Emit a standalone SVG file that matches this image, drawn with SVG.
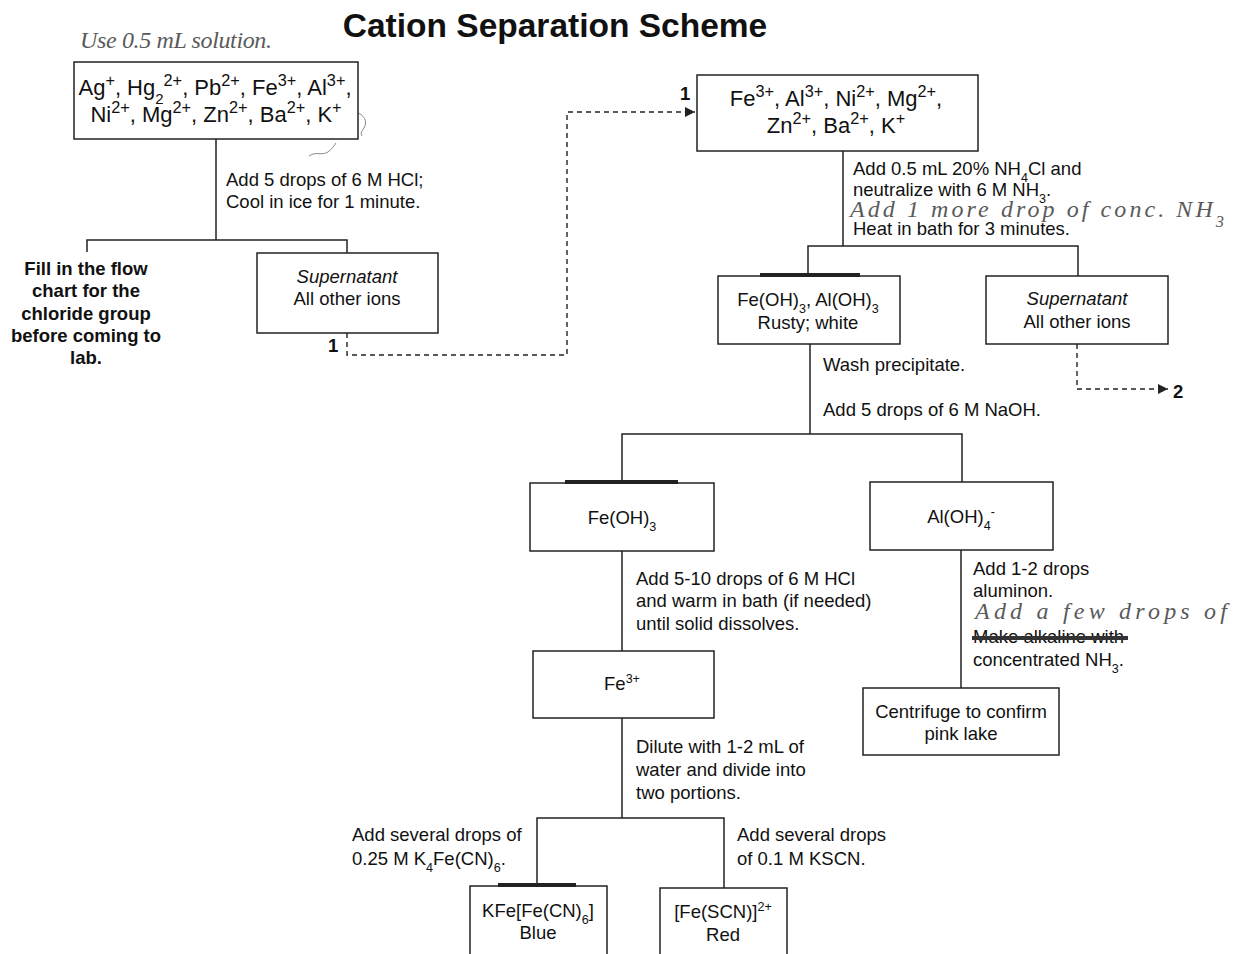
<svg xmlns="http://www.w3.org/2000/svg" width="1233" height="954" viewBox="0 0 1233 954">
  <style>
    text { font-family: "Liberation Sans", Arial, sans-serif; fill: #111; }
    .title { font-size: 33.5px; font-weight: bold; text-anchor: middle; }
    .ions { font-size: 22px; text-anchor: middle; }
    .ions .sup { font-size: 74%; }
    .lbl { font-size: 18.5px; }
    .mid { font-size: 18.5px; text-anchor: middle; }
    .it { font-style: italic; }
    .bold { font-size: 18.5px; font-weight: bold; }
    .note { font-size: 18.5px; font-weight: bold; text-anchor: middle; }
    .hand { font-family: "Liberation Serif", serif; font-style: italic; font-size: 24px; fill: #5a5a5a; }
    .sup { font-size: 68%; baseline-shift: super; }
    .sub { font-size: 68%; baseline-shift: sub; }
    .box { fill: #fff; stroke: #222; stroke-width: 1.5; }
    .bar { fill: #222; }
    .wire { fill: none; stroke: #222; stroke-width: 1.5; }
    .dash { fill: none; stroke: #222; stroke-width: 1.4; stroke-dasharray: 5 4; }
    .mark { fill: none; stroke: #888; stroke-width: 1; }
  </style>
  <defs>
    <marker id="arrow" viewBox="0 0 10 10" refX="10" refY="5" markerWidth="10" markerHeight="10" markerUnits="userSpaceOnUse" orient="auto">
      <path d="M0,0 L10,5 L0,10 z" fill="#222"/>
    </marker>
  </defs>
  <rect width="1233" height="954" fill="#fff"/>

  <text class="title" x="555" y="37">Cation Separation Scheme</text>

  <!-- connectors -->
  <g id="connectors">
    <path class="wire" d="M216,139 V240 M87,252 V240 H347 V253"/>
    <path class="dash" d="M347,333 V355 H567 V112 H695" marker-end="url(#arrow)"/>
    <path class="wire" d="M843,151 V246 M808,276 V246 H1078 V276"/>
    <path class="dash" d="M1077,344 V389 H1168" marker-end="url(#arrow)"/>
    <path class="wire" d="M810,344 V434 M622,483 V434 H962 V482"/>
    <path class="wire" d="M622,551 V651"/>
    <path class="wire" d="M622,718 V818 M537,886 V818 H724 V888"/>
    <path class="wire" d="M961,550 V688"/>
  </g>

  <!-- pen marks -->
  <g id="marks">
    <path class="mark" d="M356,112 C364,115 368,121 364,128 C362,131 360,133 362,136"/>
    <path class="mark" d="M309,156 C316,151 322,156 328,152 C332,149 334,146 336,143"/>
  </g>

  <!-- starting solution -->
  <g id="start">
    <text class="hand" x="80" y="48" textLength="192" lengthAdjust="spacing">Use 0.5 mL solution.</text>
    <rect class="box" x="74" y="62" width="284" height="77"/>
    <text class="ions" x="215" y="95">Ag<tspan class="sup">+</tspan>, Hg<tspan class="sub">2</tspan><tspan class="sup">2+</tspan>, Pb<tspan class="sup">2+</tspan>, Fe<tspan class="sup">3+</tspan>, Al<tspan class="sup">3+</tspan>,</text>
    <text class="ions" x="216" y="122">Ni<tspan class="sup">2+</tspan>, Mg<tspan class="sup">2+</tspan>, Zn<tspan class="sup">2+</tspan>, Ba<tspan class="sup">2+</tspan>, K<tspan class="sup">+</tspan></text>
  </g>

  <g id="step-hcl">
    <text class="lbl" x="226" y="186">Add 5 drops of 6 M HCl;</text>
    <text class="lbl" x="226" y="208">Cool in ice for 1 minute.</text>
  </g>

  <g id="chloride-note">
    <text class="note" x="86" y="275">Fill in the flow</text>
    <text class="note" x="86" y="297">chart for the</text>
    <text class="note" x="86" y="320">chloride group</text>
    <text class="note" x="86" y="342">before coming to</text>
    <text class="note" x="86" y="364">lab.</text>
  </g>

  <g id="supernatant-1">
    <rect class="box" x="257" y="253" width="181" height="80"/>
    <text class="mid it" x="347" y="283">Supernatant</text>
    <text class="mid" x="347" y="305">All other ions</text>
    <text class="bold" x="328" y="352">1</text>
  </g>

  <!-- group 2 onwards -->
  <g id="remaining-ions">
    <text class="bold" x="680" y="100">1</text>
    <rect class="box" x="697" y="75" width="281" height="76"/>
    <text class="ions" x="836" y="106">Fe<tspan class="sup">3+</tspan>, Al<tspan class="sup">3+</tspan>, Ni<tspan class="sup">2+</tspan>, Mg<tspan class="sup">2+</tspan>,</text>
    <text class="ions" x="836" y="133">Zn<tspan class="sup">2+</tspan>, Ba<tspan class="sup">2+</tspan>, K<tspan class="sup">+</tspan></text>
  </g>

  <g id="step-nh3">
    <text class="lbl" x="853" y="175">Add 0.5 mL 20% NH<tspan class="sub">4</tspan>Cl and</text>
    <text class="lbl" x="853" y="196">neutralize with 6 M NH<tspan class="sub">3</tspan>.</text>
    <text class="hand" x="850" y="217" textLength="374" lengthAdjust="spacing">Add 1 more drop of conc. NH<tspan class="sub">3</tspan></text>
    <text class="lbl" x="853" y="235">Heat in bath for 3 minutes.</text>
  </g>

  <g id="hydroxides">
    <rect class="box" x="718" y="276" width="182" height="68"/>
    <rect class="bar" x="760" y="273" width="100" height="4"/>
    <text class="mid" x="808" y="306">Fe(OH)<tspan class="sub">3</tspan>, Al(OH)<tspan class="sub">3</tspan></text>
    <text class="mid" x="808" y="329">Rusty; white</text>
  </g>

  <g id="supernatant-2">
    <rect class="box" x="986" y="276" width="182" height="68"/>
    <text class="mid it" x="1077" y="305">Supernatant</text>
    <text class="mid" x="1077" y="328">All other ions</text>
    <text class="bold" x="1173" y="398">2</text>
  </g>

  <g id="step-naoh">
    <text class="lbl" x="823" y="371">Wash precipitate.</text>
    <text class="lbl" x="823" y="416">Add 5 drops of 6 M NaOH.</text>
  </g>

  <g id="iron-hydroxide">
    <rect class="box" x="530" y="483" width="184" height="68"/>
    <rect class="bar" x="565" y="480" width="113" height="4"/>
    <text class="mid" x="622" y="524">Fe(OH)<tspan class="sub">3</tspan></text>
  </g>

  <g id="aluminate">
    <rect class="box" x="870" y="482" width="183" height="68"/>
    <text class="mid" x="961" y="523">Al(OH)<tspan class="sub">4</tspan><tspan class="sup">-</tspan></text>
  </g>

  <g id="step-dissolve">
    <text class="lbl" x="636" y="585">Add 5-10 drops of 6 M HCl</text>
    <text class="lbl" x="636" y="607">and warm in bath (if needed)</text>
    <text class="lbl" x="636" y="630">until solid dissolves.</text>
  </g>

  <g id="iron-ion">
    <rect class="box" x="533" y="651" width="181" height="67"/>
    <text class="mid" x="622" y="690">Fe<tspan class="sup">3+</tspan></text>
  </g>

  <g id="step-dilute">
    <text class="lbl" x="636" y="753">Dilute with 1-2 mL of</text>
    <text class="lbl" x="636" y="776">water and divide into</text>
    <text class="lbl" x="636" y="799">two portions.</text>
  </g>

  <g id="step-ferrocyanide">
    <text class="lbl" x="352" y="841">Add several drops of</text>
    <text class="lbl" x="352" y="865">0.25 M K<tspan class="sub">4</tspan>Fe(CN)<tspan class="sub">6</tspan>.</text>
  </g>

  <g id="step-thiocyanate">
    <text class="lbl" x="737" y="841">Add several drops</text>
    <text class="lbl" x="737" y="865">of 0.1 M KSCN.</text>
  </g>

  <g id="prussian-blue">
    <rect class="box" x="470" y="886" width="137" height="80"/>
    <rect class="bar" x="498" y="883" width="78" height="4"/>
    <text class="mid" x="538" y="917">KFe[Fe(CN)<tspan class="sub">6</tspan>]</text>
    <text class="mid" x="538" y="939">Blue</text>
  </g>

  <g id="thiocyanate-complex">
    <rect class="box" x="660" y="888" width="127" height="80"/>
    <text class="mid" x="723" y="918">[Fe(SCN)]<tspan class="sup">2+</tspan></text>
    <text class="mid" x="723" y="941">Red</text>
  </g>

  <g id="step-aluminon">
    <text class="lbl" x="973" y="575">Add 1-2 drops</text>
    <text class="lbl" x="973" y="597">aluminon.</text>
    <text class="hand" x="975" y="619" textLength="252" lengthAdjust="spacing">Add a few drops of</text>
    <text class="lbl" x="973" y="643">Make alkaline with</text>
    <line x1="972" y1="638" x2="1128" y2="638" stroke="#333" stroke-width="4"/>
    <text class="lbl" x="973" y="666">concentrated NH<tspan class="sub">3</tspan>.</text>
  </g>

  <g id="pink-lake">
    <rect class="box" x="863" y="688" width="196" height="67"/>
    <text class="mid" x="961" y="718">Centrifuge to confirm</text>
    <text class="mid" x="961" y="740">pink lake</text>
  </g>
</svg>
